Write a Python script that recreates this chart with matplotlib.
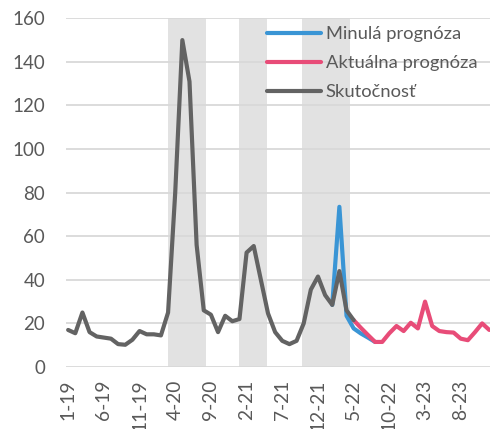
import matplotlib
matplotlib.use("Agg")
import matplotlib.pyplot as plt
import numpy as np

plt.rcParams['font.family'] = ['Lato', 'DejaVu Sans']

# Categories: months 1-19 .. 12-23
months = [f"{m}-{y}" for y in (19, 20, 21, 22, 23) for m in range(1, 13)]

actual = [17, 15.5, 25, 16, 14, 13.5, 13, 10.5, 10.2, 12.5,
          16.5, 15, 15, 14.5, 25, 80, 150, 131, 56, 26,
          24, 16, 23.5, 21, 22, 52.5, 55.5, 40, 24.6, 16,
          12, 10.5, 12, 20, 35.5, 41.5, 33, 28.5, 44, 26,
          21.5]
past_start = 37
past_forecast = [28.5, 73.5, 23.5, 17.7, 15.4, 13.5, 11.5]
cur_start = 40
current_forecast = [21.5, 18, 14.7, 11.5, 11.5, 15.5, 18.8, 16.5, 20.3, 17.7,
                    30, 18.8, 16.5, 16, 15.8, 13, 12.3, 16, 20, 17]

# shaded periods (in month-index units)
shade_spans = [(14.0, 19.25), (23.95, 27.8), (32.75, 39.45)]

tick_every = 5
text_color = "#595959"
c_blue = "#3A95D5"
c_pink = "#E84C78"
c_gray = "#636363"

fig = plt.figure(figsize=(4.9, 4.29), dpi=100)
ax = fig.add_axes([66/490, 1 - 367/429, 1 - 66/490, (367 - 18.3)/429])

for a, b in shade_spans:
    ax.axvspan(a, b, ymin=0, ymax=1, color="#E2E2E2", lw=0, zorder=0)

ax.set_ylim(0, 160)
ax.set_yticks(np.arange(0, 161, 20))
ax.yaxis.grid(True, color="#D9D9D9", lw=1.3, zorder=0.5)
ax.set_axisbelow(True)

x_act = np.arange(len(actual))
x_past = np.arange(past_start, past_start + len(past_forecast))
x_cur = np.arange(cur_start, cur_start + len(current_forecast))

lw = 3.0
ax.plot(x_past, past_forecast, color=c_blue, lw=lw, solid_joinstyle='round',
        solid_capstyle='round', label="Minulá prognóza", zorder=3)
ax.plot(x_cur, current_forecast, color=c_pink, lw=lw, solid_joinstyle='round',
        solid_capstyle='round', label="Aktuálna prognóza", zorder=4)
ax.plot(x_act, actual, color=c_gray, lw=lw, solid_joinstyle='round',
        solid_capstyle='round', label="Skutočnosť", zorder=5)

ax.set_xlim(-0.3, 59.1)
ticks = list(range(0, len(months), tick_every))
ax.set_xticks(ticks)
ax.set_xticklabels([months[i] for i in ticks], rotation=90)

for s in ax.spines.values():
    s.set_visible(False)
ax.tick_params(axis='both', length=0, colors=text_color, labelsize=13.5)
ax.tick_params(axis='x', pad=9, labelsize=13.8)
ax.tick_params(axis='y', pad=15)

leg_fs = 13.2
fs_px = leg_fs * 100 / 72
leg = ax.legend(loc='upper left',
                bbox_to_anchor=(266.7 / 490, 1 - 26/429),
                bbox_transform=fig.transFigure, frameon=False,
                borderaxespad=0, borderpad=0, handlelength=54 / fs_px,
                handletextpad=5 / fs_px, labelspacing=0.71, fontsize=leg_fs)
for t in leg.get_texts():
    t.set_color(text_color)

fig.savefig("out.png", dpi=100)
